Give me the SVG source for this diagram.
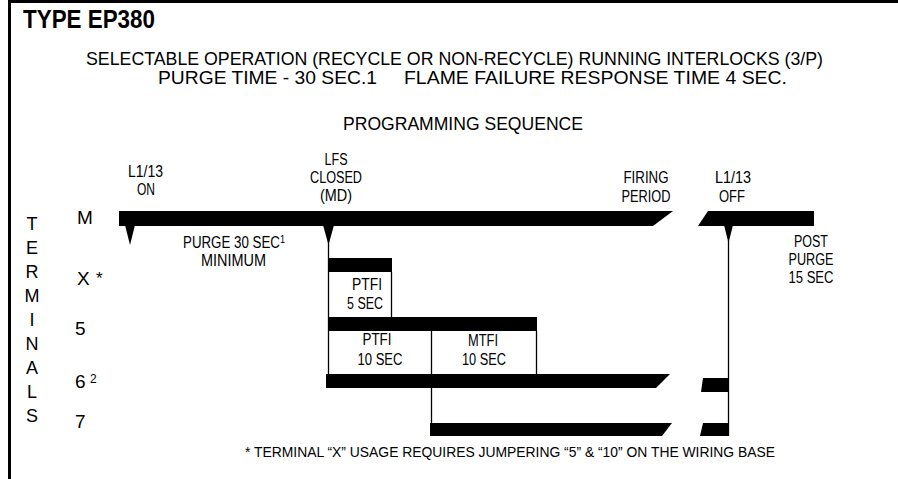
<svg xmlns="http://www.w3.org/2000/svg" width="898" height="479" viewBox="0 0 898 479">
<style>
.n{font-family:"Liberation Sans",Arial,Helvetica,sans-serif;fill:#000}
.r{font-family:"Liberation Sans",Arial,Helvetica,sans-serif;fill:#000}
.c{text-anchor:middle}
.s16{font-size:16px}
.bar{fill:#000}
.ln{stroke:#000;stroke-width:1.3;fill:none}
</style>
<rect width="898" height="479" fill="#fff"/>
<g id="frame">
<rect x="8" y="0" width="890" height="3" fill="#000"/>
<rect x="8" y="0" width="3" height="479" fill="#000"/>
</g>
<g id="title">
<text class="n" x="23" y="28" font-size="26" font-weight="bold" textLength="132" lengthAdjust="spacingAndGlyphs">TYPE EP380</text>
</g>
<g id="subtitle">
<text class="n" x="86" y="65" font-size="18" textLength="737" lengthAdjust="spacingAndGlyphs">SELECTABLE OPERATION (RECYCLE OR NON-RECYCLE) RUNNING INTERLOCKS (3/P)</text>
<text class="n" x="158" y="84" font-size="18" textLength="219" lengthAdjust="spacingAndGlyphs">PURGE TIME - 30 SEC.1</text>
<text class="n" x="404" y="84" font-size="18" textLength="383" lengthAdjust="spacingAndGlyphs">FLAME FAILURE RESPONSE TIME 4 SEC.</text>
<text class="n" x="343" y="130" font-size="18" textLength="240" lengthAdjust="spacingAndGlyphs">PROGRAMMING SEQUENCE</text>
</g>
<g id="axis-terminals" class="r c" font-size="18">
<text x="32" y="230">T</text>
<text x="32" y="254">E</text>
<text x="32" y="278">R</text>
<text x="32" y="302">M</text>
<text x="32" y="326">I</text>
<text x="32" y="350">N</text>
<text x="32" y="374">A</text>
<text x="32" y="398">L</text>
<text x="32" y="422">S</text>
</g>
<g id="terminal-labels" class="r" font-size="19">
<text x="77" y="224">M</text>
<text x="77" y="285">X</text>
<text x="96" y="284" font-size="17">*</text>
<text x="75" y="388">6</text>
<text x="90" y="383" font-size="12">2</text>
<text x="75" y="335">5</text>
<text x="75" y="428">7</text>
</g>
<g id="event-labels" class="n c s16">
<text x="145.5" y="177" textLength="35" lengthAdjust="spacingAndGlyphs">L1/13</text>
<text x="146" y="195" textLength="18" lengthAdjust="spacingAndGlyphs">ON</text>
<text x="336" y="165" textLength="23" lengthAdjust="spacingAndGlyphs">LFS</text>
<text x="336" y="183" textLength="52" lengthAdjust="spacingAndGlyphs">CLOSED</text>
<text x="336" y="201" textLength="32" lengthAdjust="spacingAndGlyphs">(MD)</text>
<text x="646" y="183" textLength="45" lengthAdjust="spacingAndGlyphs">FIRING</text>
<text x="646" y="202" textLength="49" lengthAdjust="spacingAndGlyphs">PERIOD</text>
<text x="733" y="183" textLength="36" lengthAdjust="spacingAndGlyphs">L1/13</text>
<text x="732" y="202" textLength="26" lengthAdjust="spacingAndGlyphs">OFF</text>
<text x="811" y="247" textLength="34" lengthAdjust="spacingAndGlyphs">POST</text>
<text x="811" y="265" textLength="45" lengthAdjust="spacingAndGlyphs">PURGE</text>
<text x="811" y="283" textLength="45" lengthAdjust="spacingAndGlyphs">15 SEC</text>
<text x="234" y="248" textLength="102" lengthAdjust="spacingAndGlyphs">PURGE 30 SEC<tspan font-size="11" dy="-5">1</tspan></text>
<text x="233.5" y="266" textLength="65" lengthAdjust="spacingAndGlyphs">MINIMUM</text>
</g>
<g id="row-M">
<polygon class="bar" points="119,211 673,211 653,226 119,226"/>
<polygon class="bar" points="708,211 814,211 814,226 698,226"/>
<polygon class="bar" points="125,225 135,225 130,245"/>
<polygon class="bar" points="323,225 334,225 328.5,245"/>
<polygon class="bar" points="724,225 733,225 728.5,243"/>
</g>
<g id="row-X">
<rect class="bar" x="328" y="258" width="64" height="14"/>
<text class="n c s16" x="367" y="290" textLength="30" lengthAdjust="spacingAndGlyphs">PTFI</text>
<text class="n c s16" x="365" y="309" textLength="36" lengthAdjust="spacingAndGlyphs">5 SEC</text>
</g>
<g id="row-5">
<rect class="bar" x="328" y="317" width="209" height="14"/>
<text class="n c s16" x="377" y="345" textLength="29" lengthAdjust="spacingAndGlyphs">PTFI</text>
<text class="n c s16" x="380" y="365" textLength="45" lengthAdjust="spacingAndGlyphs">10 SEC</text>
<text class="n c s16" x="483" y="346" textLength="30" lengthAdjust="spacingAndGlyphs">MTFI</text>
<text class="n c s16" x="484" y="365" textLength="44" lengthAdjust="spacingAndGlyphs">10 SEC</text>
</g>
<g id="row-6">
<polygon class="bar" points="326,374 670,374 656,388 326,388"/>
<polygon class="bar" points="703,378 728,378 728,392 701,392"/>
</g>
<g id="row-7">
<polygon class="bar" points="430,423 672,423 662,436 430,436"/>
<polygon class="bar" points="703,423 728,423 728,436 700,436"/>
</g>
<g id="connectors">
<line class="ln" x1="328.5" y1="240" x2="328.5" y2="388"/>
<line class="ln" x1="391.5" y1="272" x2="391.5" y2="317"/>
<line class="ln" x1="431.5" y1="331" x2="431.5" y2="423"/>
<line class="ln" x1="536.5" y1="331" x2="536.5" y2="374"/>
<line class="ln" x1="728.5" y1="240" x2="728.5" y2="436"/>
</g>
<g id="footnote">
<text class="n" x="245" y="457" font-size="14" textLength="530" lengthAdjust="spacingAndGlyphs">* TERMINAL “X” USAGE REQUIRES JUMPERING “5” &amp; “10” ON THE WIRING BASE</text>
</g>
</svg>
